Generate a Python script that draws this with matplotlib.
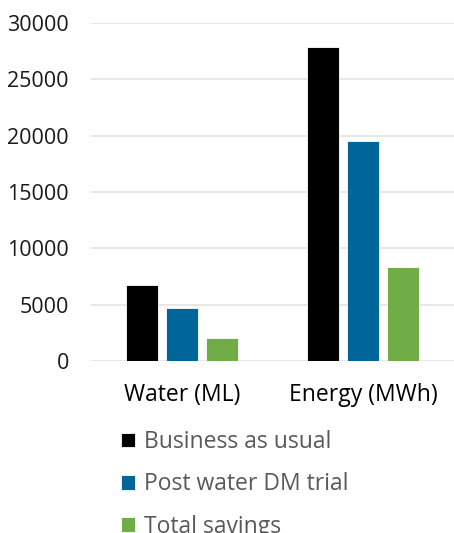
import matplotlib
matplotlib.use("Agg")
import matplotlib.pyplot as plt
import numpy as np
from matplotlib.patches import Patch

# data
categories = ["Water (ML)", "Energy (MWh)"]
series_names = ["Business as usual", "Post water DM trial", "Total savings"]
business_as_usual = [6750, 27850]
post_dm_trial = [4700, 19500]
total_savings = [2050, 8350]
colors = ["#000000", "#00669a", "#70ad47"]
yticks = [0, 5000, 10000, 15000, 20000, 25000, 30000]

plt.rcParams['font.family'] = ['Open Sans', 'DejaVu Sans']

fig = plt.figure(figsize=(4.54, 5.33), dpi=100)
ax = fig.add_axes([0.2004, 0.3227, 0.7996, 0.6341])

x = np.arange(len(categories))
width = 0.175
step = 0.22
for i, (vals, c, name) in enumerate(zip([business_as_usual, post_dm_trial, total_savings], colors, series_names)):
    ax.bar(x + (i - 1) * step, vals, width, color=c, edgecolor="white", linewidth=0.6, label=name, zorder=3)

ax.set_xlim(-0.5, 1.5)
ax.set_ylim(0, 30000)
ax.set_yticks(yticks)
ax.set_yticklabels([str(v) for v in yticks], fontsize=15.5, color="#1a1a1a")
ax.set_xticks(x)
ax.set_xticklabels(categories, fontsize=16.5, color="#000000")
ax.yaxis.grid(True, color="#e3e3e3", linewidth=1.2, zorder=0)
ax.tick_params(axis="both", length=0)
ax.tick_params(axis="y", pad=16)
ax.tick_params(axis="x", pad=16)
for s in ax.spines.values():
    s.set_visible(False)

handles = [Patch(facecolor=c, edgecolor="white", linewidth=0.6) for c in colors]
fig.legend(handles, series_names, loc="upper left", bbox_to_anchor=(0.266, 0.193),
           frameon=False, fontsize=16.5, labelcolor="#595959",
           handlelength=0.6, handleheight=0.6, handletextpad=0.4,
           labelspacing=0.8, borderpad=0, borderaxespad=0)

fig.savefig("out.png", dpi=100)
